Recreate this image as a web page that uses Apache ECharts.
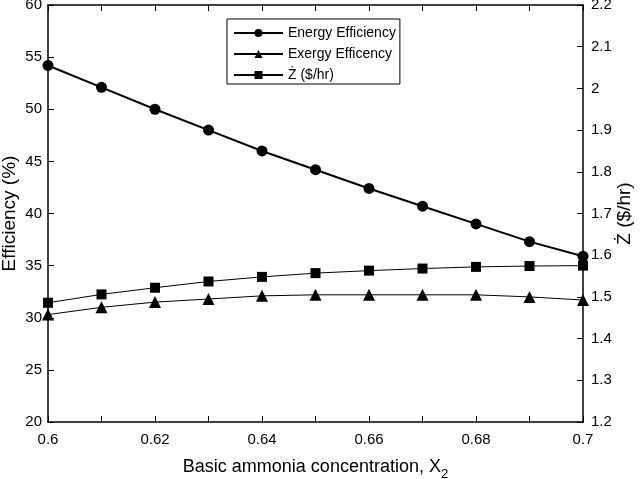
<!DOCTYPE html>
<html>
<head>
<meta charset="utf-8">
<script src="https://cdn.jsdelivr.net/npm/echarts@6/dist/echarts.min.js"></script>
<style>
  html, body { margin: 0; padding: 0; background: #fff; }
  #main { width: 640px; height: 479px; }
</style>
</head>
<body>
<div id="main"></div>
<script>
var xValues = [0.60, 0.61, 0.62, 0.63, 0.64, 0.65, 0.66, 0.67, 0.68, 0.69, 0.70];
var energyEff = [54.2, 52.1, 50.0, 48.0, 46.0, 44.2, 42.4, 40.7, 39.0, 37.3, 35.9];
var exergyEff = [30.3, 31.0, 31.5, 31.8, 32.1, 32.2, 32.2, 32.2, 32.2, 32.0, 31.7];
var zCost = [1.486, 1.506, 1.522, 1.537, 1.548, 1.557, 1.563, 1.568, 1.572, 1.574, 1.575];

function pairs(ys) {
  return xValues.map(function (x, i) { return [x, ys[i]]; });
}

(function () {
  var myChart = echarts.init(document.getElementById('main'));
  var font = 'Liberation Sans, Arial, sans-serif';

  var option = {
    animation: false,
    textStyle: { fontFamily: font, color: '#000' },
    grid: { left: 48, right: 57, top: 5, bottom: 57, outerBoundsMode: 'none', containLabel: false },
    legend: {
      orient: 'vertical',
      left: 227,
      top: 19,
      padding: [7, 4, 2, 6],
      itemWidth: 49,
      itemHeight: 10,
      itemGap: 7,
      borderColor: '#000',
      borderWidth: 1,
      textStyle: { fontFamily: font, fontSize: 14, color: '#000' },
      data: ['Energy Efficiency', 'Exergy Efficency', 'Ż ($/hr)']
    },
    xAxis: [
      {
        type: 'value',
        min: 0.6,
        max: 0.7,
        interval: 0.01,
        name: 'Basic ammonia concentration, X{sub|2}',
        nameLocation: 'middle',
        nameGap: 32,
        nameMoveOverlap: false,
        nameTextStyle: {
          fontFamily: font, fontSize: 18, color: '#000',
          rich: { sub: { fontFamily: font, fontSize: 13, color: '#000', padding: [14, 0, 0, 0] } }
        },
        axisLine: { lineStyle: { color: '#000', width: 1.5 } },
        axisTick: { inside: true, length: 6, lineStyle: { color: '#000' } },
        axisLabel: {
          margin: 10, fontSize: 15, color: '#000', fontFamily: font,
          formatter: function (v) {
            var k = Math.round(v * 100);
            return k % 2 === 0 ? String(k / 100) : '';
          }
        },
        splitLine: { show: false }
      },
      {
        type: 'value',
        position: 'top',
        min: 0.6,
        max: 0.7,
        interval: 0.01,
        axisLine: { lineStyle: { color: '#000', width: 1.5 } },
        axisTick: { inside: true, length: 6, lineStyle: { color: '#000' } },
        axisLabel: { show: false },
        splitLine: { show: false }
      }
    ],
    yAxis: [
      {
        type: 'value',
        min: 20,
        max: 60,
        interval: 5,
        name: 'Efficiency (%)',
        nameLocation: 'middle',
        nameRotate: 90,
        nameGap: 29,
        nameMoveOverlap: false,
        nameTextStyle: { fontFamily: font, fontSize: 19, color: '#000' },
        axisLine: { show: true, lineStyle: { color: '#000', width: 1.5 } },
        axisTick: { show: true, inside: true, length: 6, lineStyle: { color: '#000' } },
        axisLabel: { margin: 6, fontSize: 15, color: '#000', fontFamily: font },
        splitLine: { show: false }
      },
      {
        type: 'value',
        position: 'right',
        min: 1.2,
        max: 2.2,
        interval: 0.1,
        name: 'Ż ($/hr)',
        nameLocation: 'middle',
        nameRotate: 90,
        nameGap: 32,
        nameMoveOverlap: false,
        nameTextStyle: { fontFamily: font, fontSize: 19, color: '#000' },
        axisLine: { show: true, lineStyle: { color: '#000', width: 1.5 } },
        axisTick: { show: true, inside: true, length: 6, lineStyle: { color: '#000' } },
        axisLabel: { margin: 8, fontSize: 15, color: '#000', fontFamily: font },
        splitLine: { show: false }
      }
    ],
    series: [
      {
        name: 'Energy Efficiency',
        type: 'line',
        symbol: 'circle',
        symbolSize: 11,
        itemStyle: { color: '#000' },
        lineStyle: { color: '#000', width: 2 },
        data: pairs(energyEff)
      },
      {
        name: 'Exergy Efficency',
        type: 'line',
        symbol: 'triangle',
        symbolSize: 12,
        itemStyle: { color: '#000' },
        lineStyle: { color: '#000', width: 1 },
        data: pairs(exergyEff)
      },
      {
        name: 'Ż ($/hr)',
        type: 'line',
        yAxisIndex: 1,
        symbol: 'rect',
        symbolSize: 10,
        itemStyle: { color: '#000' },
        lineStyle: { color: '#000', width: 1 },
        data: pairs(zCost)
      }
    ]
  };

  myChart.setOption(option);
})();
</script>
</body>
</html>
